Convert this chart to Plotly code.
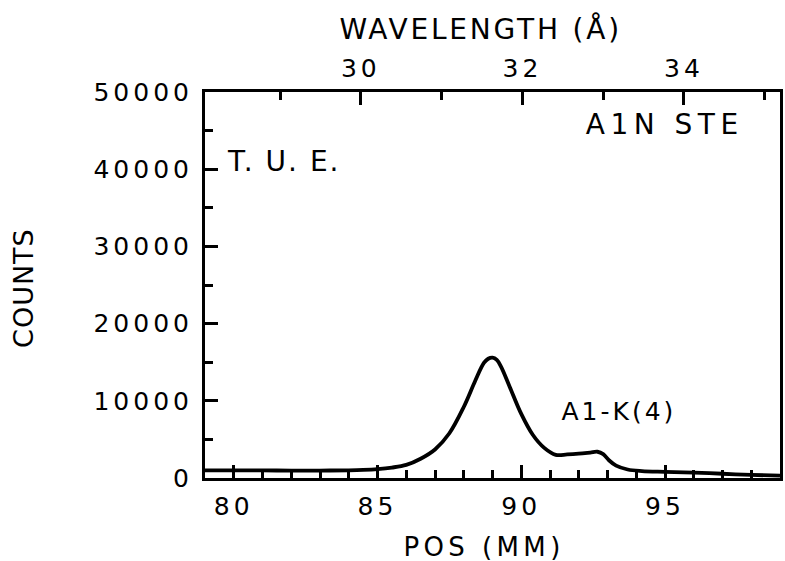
import plotly.graph_objects as go

# ---- data ----
pos_mm = [79.0, 80, 81, 82, 83, 84, 84.5, 85, 85.5, 86, 86.5, 87, 87.5, 88, 88.4,
          88.7, 88.85, 89.0, 89.15, 89.3, 89.6, 90.0, 90.4, 90.8, 91.2, 91.6, 92.0,
          92.4, 92.65, 92.85, 93.05, 93.3, 93.7, 94.2, 95, 96, 97, 98, 99]
counts = [1000, 1000, 980, 960, 960, 1000, 1050, 1150, 1350, 1700, 2500, 3700, 5800,
          9200, 12600, 14900, 15450, 15600, 15300, 14400, 11800, 8300, 5600, 3900, 3000,
          3050, 3150, 3300, 3400, 3100, 2300, 1600, 1100, 900, 800, 700, 550, 400, 300]

x_ticks = [80, 85, 90, 95]
x_ticktext = ["80", "85", "90", "95"]
y_ticks = [0, 10000, 20000, 30000, 40000, 50000]
y_ticktext = ["0", "10000", "20000", "30000", "40000", "50000"]
wl_ticks = [30, 32, 34]
wl_ticktext = ["30", "32", "34"]

x_range = [79, 99]
y_range = [0, 50000]
wl_range = [28.07, 35.19]   # wavelength (Å) at the left/right edges of the frame

# ---- layout geometry (pixels) ----
W, H = 785, 561
L, R, T, B = 205, 2, 92, 83
PW, PH = W - L - R, H - T - B

def px(x):
    return (x - L) / PW

def py(y):
    return (H - B - y) / PH

FONT = "DejaVu Sans"
fig = go.Figure()
fig.add_trace(go.Scatter(x=pos_mm, y=counts, mode="lines",
                         line=dict(color="black", width=3.8, shape="spline", smoothing=1.0),
                         hoverinfo="skip", showlegend=False))
fig.add_trace(go.Scatter(x=[], y=[], xaxis="x2", mode="lines", showlegend=False))

axis_common = dict(showgrid=False, zeroline=False, showline=True, linecolor="black",
                   linewidth=3, ticks="inside", tickcolor="black", tickwidth=2.5,
                   ticklen=13, tickfont=dict(family=FONT, size=25, color="black"))

fig.update_layout(
    width=W, height=H, margin=dict(l=L, r=R, t=T, b=B, pad=0),
    paper_bgcolor="white", plot_bgcolor="white",
    xaxis=dict(range=x_range, tickvals=x_ticks, ticktext=x_ticktext, mirror=True,
               minor=dict(dtick=1, tick0=79, ticks="inside", ticklen=8, tickwidth=2.5,
                          tickcolor="black"),
               ticklabelstandoff=4, **axis_common),
    xaxis2=dict(range=wl_range, overlaying="x", side="top", anchor="y",
                tickvals=wl_ticks, ticktext=wl_ticktext,
                minor=dict(dtick=1, tick0=28, ticks="inside", ticklen=8, tickwidth=2.5,
                           tickcolor="black"),
                ticklabelstandoff=2, **axis_common),
    yaxis=dict(range=y_range, tickvals=y_ticks, ticktext=y_ticktext, mirror=True,
               minor=dict(dtick=5000, ticks="inside", ticklen=8, tickwidth=2.5,
                          tickcolor="black"),
               ticklabelstandoff=4, **axis_common),
)

annots = [
    ("WAVELENGTH (Å)", 482, 29, 28, 0),
    ("COUNTS", 22, 288, 27, -90),
    ("POS (MM)", 485, 547, 26, 0),
    ("A1N STE", 667, 125, 28, 0),
    ("T. U. E.", 284, 161, 28, 0),
    ("A1-K(4)", 621, 411, 25, 0),
]
for text, x, y, size, ang in annots:
    fig.add_annotation(text=text, x=px(x), y=py(y), xref="paper", yref="paper",
                       xanchor="center", yanchor="middle", showarrow=False,
                       textangle=ang, font=dict(family=FONT, size=size, color="black"))

post = """
document.body.style.margin = '0';
document.body.style.padding = '0';
var gd = document.getElementById('{plot_id}');
function sp(sel, v){ gd.querySelectorAll(sel).forEach(function(t){ t.style.letterSpacing = v; }); }
sp('.xtick text', '4px'); sp('.x2tick text', '4px'); sp('.ytick text', '4px');
var sps = ['2.8px', '1px', '4.4px', '5.5px', '2px', '3px'];
sps.forEach(function(v, i){ sp('g.annotation[data-index="' + i + '"] text', v); });
"""
fig.write_html("out.html", post_script=post, config={"displayModeBar": False})
